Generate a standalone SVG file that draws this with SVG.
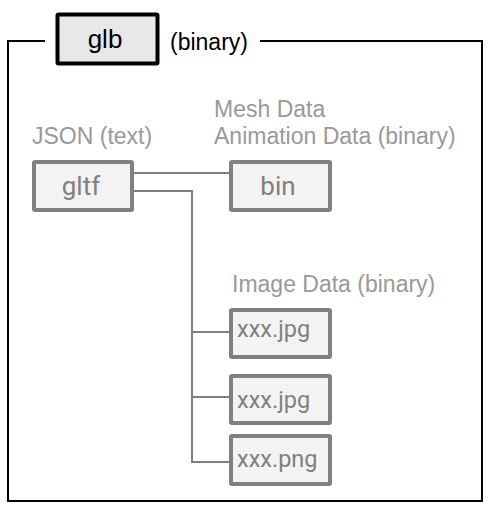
<svg xmlns="http://www.w3.org/2000/svg" width="500" height="525" viewBox="0 0 500 525">
<style>
text{font-family:"Liberation Sans",Arial,sans-serif;font-size:23px}
.lbl{fill:#999999}
.box{fill:#f3f3f3;stroke:#808080;stroke-width:4}
.bt{fill:#808080;font-family:Roboto,"Liberation Sans",sans-serif;font-size:26px}
.ft{fill:#808080;font-family:Roboto,"Liberation Sans",sans-serif;font-size:23.5px}
.con{fill:none;stroke:#808080;stroke-width:2}
</style>
<rect width="500" height="525" fill="#ffffff"/>
<g id="frame">
<polyline points="45,41 8,41 8,501 482,501 482,41 260,41" fill="none" stroke="#000" stroke-width="2"/>
</g>
<g id="glb">
<rect x="57.5" y="14.5" width="100" height="49" rx="1" fill="#e8e8e8" stroke="#000" stroke-width="4"/>
<text x="105" y="48" text-anchor="middle" fill="#000" style="font-size:26px">glb</text>
</g>
<text x="170" y="50" fill="#000">(binary)</text>
<text class="lbl" x="32" y="144">JSON (text)</text>
<text class="lbl" x="214" y="117">Mesh Data</text>
<text class="lbl" x="214" y="144">Animation Data (binary)</text>
<text class="lbl" x="232" y="292">Image Data (binary)</text>
<g id="connectors">
<line class="con" x1="134" y1="173" x2="229" y2="173"/>
<polyline class="con" points="134,191 192,191 192,462 229,462"/>
<line class="con" x1="192" y1="332" x2="229" y2="332"/>
<line class="con" x1="192" y1="397" x2="229" y2="397"/>
</g>
<g id="gltf">
<rect class="box" x="34" y="162" width="98" height="48" rx="1"/>
<text class="bt" x="81" y="195" text-anchor="middle">gltf</text>
</g>
<g id="bin">
<rect class="box" x="231" y="162" width="99" height="48" rx="1"/>
<text class="bt" x="278" y="195" text-anchor="middle">bin</text>
</g>
<g id="jpg1">
<rect class="box" x="231" y="310" width="99" height="47" rx="1"/>
<text class="ft" x="237" y="337">xxx.jpg</text>
</g>
<g id="jpg2">
<rect class="box" x="231" y="376" width="99" height="47" rx="1"/>
<text class="ft" x="237" y="408">xxx.jpg</text>
</g>
<g id="png">
<rect class="box" x="231" y="436" width="99" height="48" rx="1"/>
<text class="ft" x="237" y="467">xxx.png</text>
</g>
</svg>
